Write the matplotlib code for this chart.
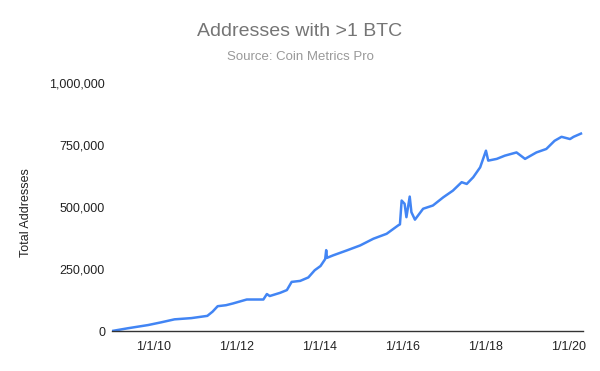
import matplotlib
matplotlib.use("Agg")
import matplotlib.pyplot as plt
from datetime import datetime

dates = ["2009-01-01", "2009-05-20", "2009-11-15", "2010-03-10", "2010-07-05",
         "2010-12-01", "2011-04-20", "2011-06-05", "2011-07-20", "2011-10-01",
         "2011-12-01", "2012-04-01", "2012-08-25", "2012-09-25", "2012-10-20",
         "2013-01-20", "2013-03-20", "2013-05-01", "2013-07-15", "2013-09-25",
         "2013-11-20", "2014-01-10", "2014-02-20", "2014-03-01", "2014-03-08",
         "2014-05-01", "2014-08-30", "2014-12-25", "2015-04-20", "2015-08-15",
         "2015-11-25", "2015-12-10", "2015-12-25", "2016-01-20", "2016-02-05",
         "2016-03-05", "2016-03-20", "2016-04-20", "2016-07-01", "2016-09-25",
         "2016-12-25", "2017-03-20", "2017-06-05", "2017-07-20", "2017-09-15",
         "2017-11-15", "2018-01-05", "2018-01-25", "2018-04-10", "2018-06-20",
         "2018-10-01", "2018-12-15", "2019-03-25", "2019-06-20", "2019-09-01",
         "2019-11-01", "2020-01-15", "2020-02-15", "2020-04-20"]
addresses = [0, 11000, 24000, 35000, 47000,
             52000, 61000, 78000, 100000, 104000,
             111000, 127000, 127000, 149000, 141000,
             154000, 165000, 198000, 202000, 216000,
             245000, 262000, 290000, 326000, 295000,
             305000, 325000, 345000, 372000, 392000,
             426000, 430000, 526000, 513000, 459000,
             542000, 479000, 449000, 493000, 506000,
             539000, 566000, 600000, 593000, 620000,
             660000, 727000, 687000, 694000, 707000,
             720000, 694000, 720000, 734000, 767000,
             783000, 774000, 783000, 796000]

y_ticks = [0, 250000, 500000, 750000, 1000000]
y_tick_labels = ["0", "250,000", "500,000", "750,000", "1,000,000"]
x_tick_dates = ["2010-01-01", "2012-01-01", "2014-01-01", "2016-01-01", "2018-01-01", "2020-01-01"]
x_tick_labels = ["1/1/10", "1/1/12", "1/1/14", "1/1/16", "1/1/18", "1/1/20"]

plt.rcParams['font.family'] = ['Liberation Sans', 'DejaVu Sans']

fig = plt.figure(figsize=(6, 3.71), dpi=100)
ax = fig.add_axes([112/600, 1-331/371, 471/600, 248/371])

x = [datetime.strptime(d, "%Y-%m-%d") for d in dates]
ax.plot(x, addresses, color="#4285F4", lw=1.8, solid_joinstyle="round")

ax.set_ylim(0, 1000000)
ax.set_xlim(datetime(2009, 1, 1), datetime(2020, 5, 8))
ax.set_yticks(y_ticks)
ax.set_yticklabels(y_tick_labels)
ax.set_xticks([datetime.strptime(d, "%Y-%m-%d") for d in x_tick_dates])
ax.set_xticklabels(x_tick_labels)
ax.tick_params(axis="both", length=0, labelsize=9, colors="#222222")
ax.tick_params(axis="y", pad=5)
ax.tick_params(axis="x", pad=7)
for s in ["top", "right", "left"]:
    ax.spines[s].set_visible(False)
ax.spines["bottom"].set_color("#333333")
ax.spines["bottom"].set_linewidth(1)

fig.text(26/600, 1-213/371, "Total Addresses", rotation=90, ha="center", va="center",
         fontsize=9, color="#222222")

fig.text(0.5, 1-31/371, "Addresses with >1 BTC", ha="center", va="center",
         fontsize=14, color="#757575")
fig.text(0.5, 1-57/371, "Source: Coin Metrics Pro", ha="center", va="center",
         fontsize=9.5, color="#999999")

fig.savefig("out.png", dpi=100)
